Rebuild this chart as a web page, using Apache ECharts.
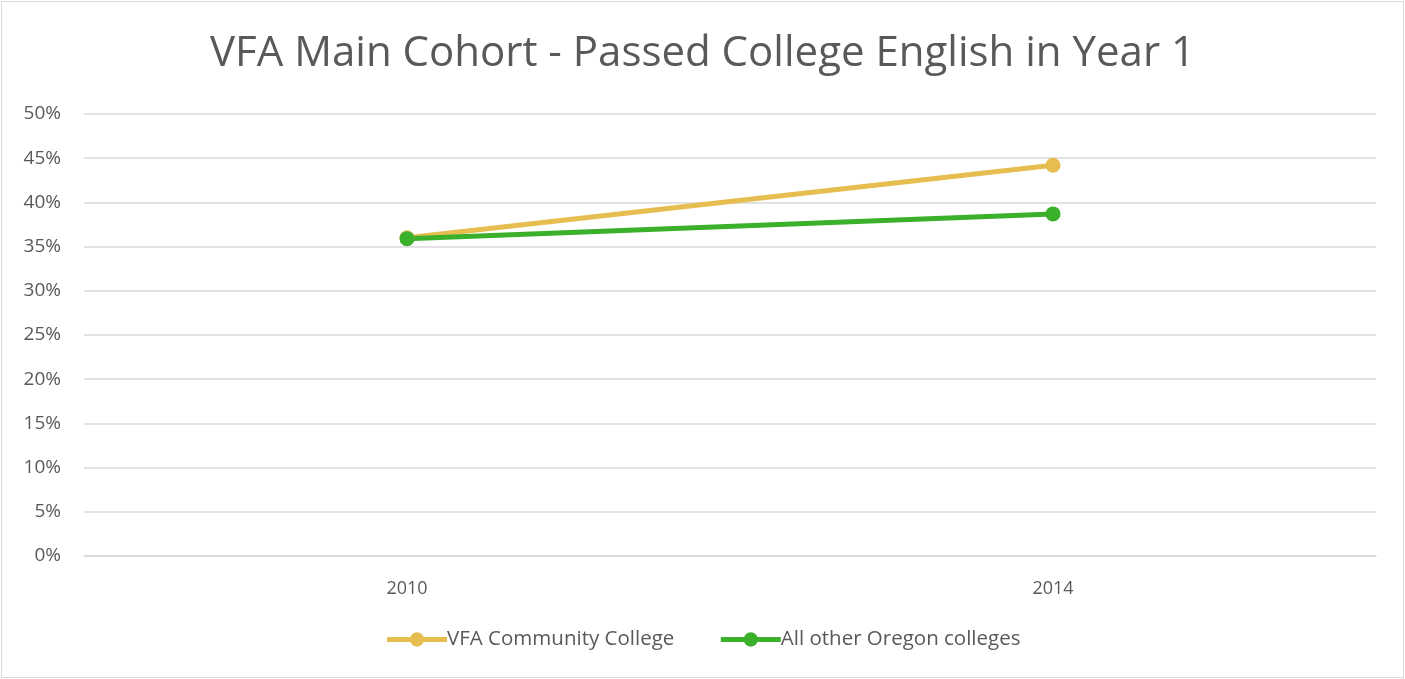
<!DOCTYPE html>
<html>
<head>
<meta charset="utf-8">
<script src="https://cdn.jsdelivr.net/npm/echarts@6/dist/echarts.min.js"></script>
<style>
html,body{margin:0;padding:0;background:#fff;}
#chart{position:absolute;left:1px;top:1px;width:1401px;height:675px;border:1px solid #d9d9d9;}
</style>
</head>
<body>
<div id="chart"></div>
<script>
// data
var years = ['2010', '2014'];
var vfa = [36.0, 44.2];
var others = [35.9, 38.7];

var chart = echarts.init(document.getElementById('chart'));
var font = "'Open Sans', 'Liberation Sans', sans-serif";
chart.setOption({
	animation: false,
	title: {
		text: 'VFA Main Cohort - Passed College English in Year 1',
		left: 'center',
		top: 26,
		textStyle: {fontFamily: font, fontSize: 42, fontWeight: 'normal', color: '#595959'}
	},
	grid: {left: 82, right: 27, top: 112, bottom: 121, containLabel: false},
	legend: {
		bottom: 22,
		left: 'center',
		itemWidth: 60,
		itemHeight: 18,
		itemGap: 44,
		lineStyle: {width: 5},
		textStyle: {fontFamily: font, fontSize: 20.5, color: '#595959', padding: [0, 0, 0, -5]},
		data: ['VFA Community College', 'All other Oregon colleges']
	},
	xAxis: {
		type: 'category',
		data: years,
		axisLine: {lineStyle: {color: '#d9d9d9', width: 1.5}},
		axisTick: {show: false},
		axisLabel: {fontFamily: font, fontSize: 18, color: '#595959', margin: 24}
	},
	yAxis: {
		type: 'value',
		min: 0, max: 50, interval: 5,
		axisLine: {show: false},
		axisTick: {show: false},
		splitLine: {lineStyle: {color: '#d9d9d9', width: 1.5}},
		axisLabel: {fontFamily: font, fontSize: 19, color: '#595959', margin: 23, formatter: '{value}%'}
	},
	series: [
		{
			name: 'VFA Community College', type: 'line', data: vfa,
			symbol: 'circle', symbolSize: 15,
			lineStyle: {color: '#E6BD4F', width: 5},
			itemStyle: {color: '#E6BD4F'}
		},
		{
			name: 'All other Oregon colleges', type: 'line', data: others,
			symbol: 'circle', symbolSize: 15,
			lineStyle: {color: '#3BB02B', width: 5},
			itemStyle: {color: '#3BB02B'}
		}
	]
});
</script>
</body>
</html>
